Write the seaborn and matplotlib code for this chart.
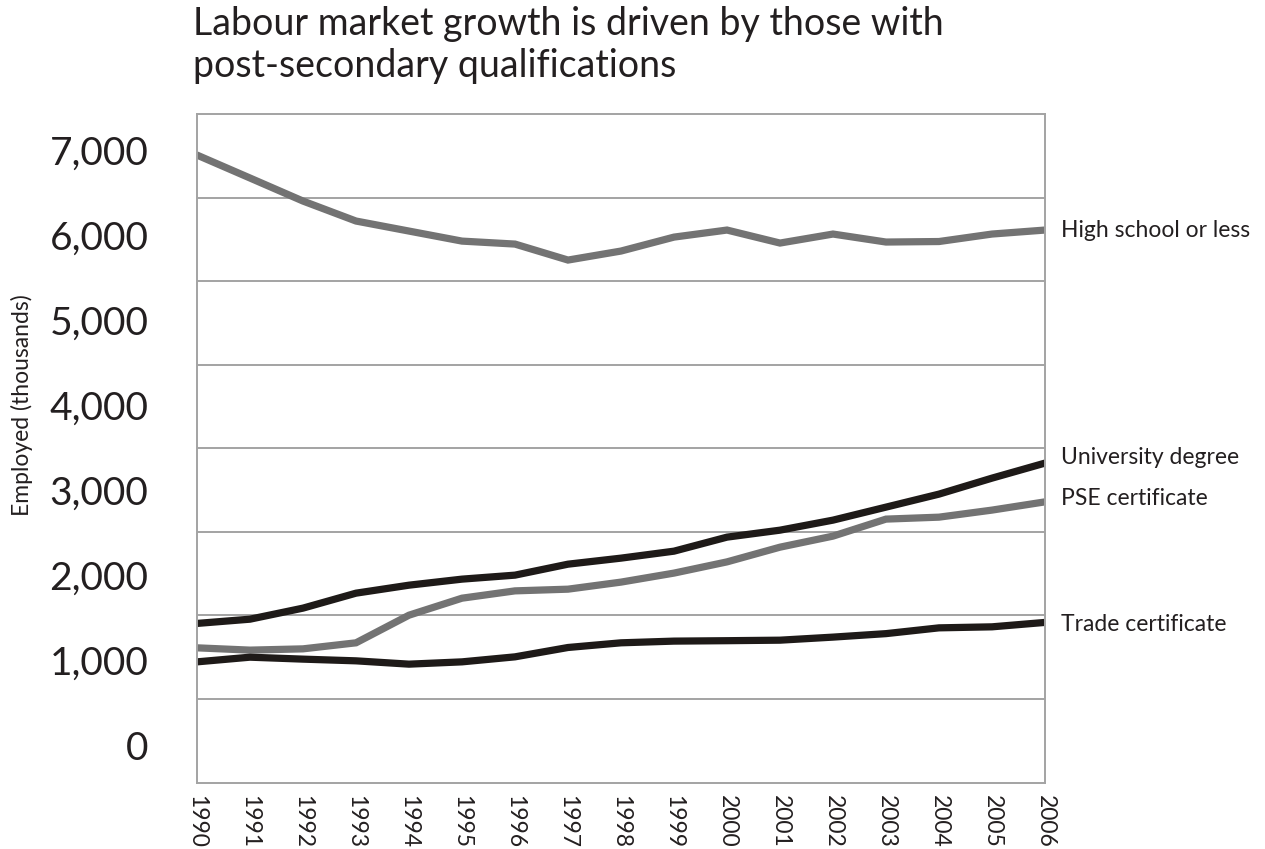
import numpy as np
import pandas as pd
import matplotlib
matplotlib.use("Agg")
import matplotlib.pyplot as plt
import matplotlib.ticker as mticker
import seaborn as sns

years = list(range(1990, 2007))
high_school = [6941, 6671, 6400, 6165, 6047, 5929, 5894, 5706, 5812, 5976,
               6059, 5906, 6012, 5918, 5924, 6012, 6059]
university = [1432, 1482, 1612, 1788, 1882, 1953, 2000, 2129, 2200, 2282,
              2447, 2529, 2647, 2800, 2953, 3141, 3318]
pse = [1145, 1118, 1133, 1204, 1529, 1729, 1815, 1835, 1918, 2024,
       2156, 2329, 2459, 2659, 2682, 2765, 2862]
trade = [980, 1035, 1012, 992, 953, 980, 1039, 1149, 1204, 1224,
         1229, 1235, 1271, 1312, 1380, 1392, 1444]

series_names = ["High school or less", "University degree", "PSE certificate", "Trade certificate"]
series_values = [high_school, university, pse, trade]
ytick_values = [0, 1000, 2000, 3000, 4000, 5000, 6000, 7000]
ytick_labels = ["0", "1,000", "2,000", "3,000", "4,000", "5,000", "6,000", "7,000"]

title = "Labour market growth is driven by those with\npost-secondary qualifications"
ylabel = "Employed (thousands)"

df = pd.DataFrame({
    "year": np.tile(years, len(series_names)),
    "value": np.concatenate(series_values),
    "series": np.repeat(series_names, len(years)),
})

GRAY = "#737373"
BLACK = "#1e1a18"
palette = {"High school or less": GRAY, "University degree": BLACK,
           "PSE certificate": GRAY, "Trade certificate": BLACK}

sns.set_theme(style="white")
plt.rcParams["font.family"] = ["Lato", "DejaVu Sans"]

fig = plt.figure(figsize=(12.65, 8.49), dpi=100)
ax = fig.add_axes([197 / 1265, 1 - 782.5 / 849, (1045 - 197) / 1265, (782.5 - 114) / 849])

sns.lineplot(data=df, x="year", y="value", hue="series", palette=palette,
             linewidth=5.2, ax=ax, legend=False, solid_joinstyle="miter")

ylim = (-439, 7424)
ax.set_ylim(*ylim)
ax.set_xlim(years[0], years[-1])

# gridlines (offset from the labels as in the original)
ax.yaxis.set_minor_locator(mticker.FixedLocator(np.linspace(ylim[0], ylim[1], 9)[1:-1]))
ax.grid(which="minor", axis="y", color="#a3a3a3", linewidth=1.4)
ax.grid(which="major", visible=False)
ax.set_yticks(ytick_values)
ax.set_yticklabels(ytick_labels, fontsize=28, color="#231f20")
ax.tick_params(axis="y", which="both", length=0, pad=35)
ax.set_xticks(years)
ax.set_xticklabels([str(y) for y in years], rotation=-90, fontsize=16.5, color="#231f20",
                   va="top")
ax.tick_params(axis="x", length=0, pad=9)
ax.set_xlabel("")
ax.set_ylabel("")

for s in ax.spines.values():
    s.set_color("#a3a3a3")
    s.set_linewidth(1.4)

# end labels
offsets = {"High school or less": -10, "University degree": 70,
           "PSE certificate": 45, "Trade certificate": -20}
for name, vals in zip(series_names, series_values):
    ax.text(years[-1] + 0.3, vals[-1] + offsets[name], name, fontsize=16.5,
            color="#231f20", va="center", ha="left", clip_on=False)

fig.text(22 / 1265, 1 - 405 / 849, ylabel, rotation=90, fontsize=16.5,
         color="#231f20", va="center", ha="center")
fig.text(193 / 1265, 1 - 6 / 849, title, fontsize=27, color="#231f20",
         va="top", ha="left", linespacing=1.2)

fig.savefig("out.png", dpi=100)
